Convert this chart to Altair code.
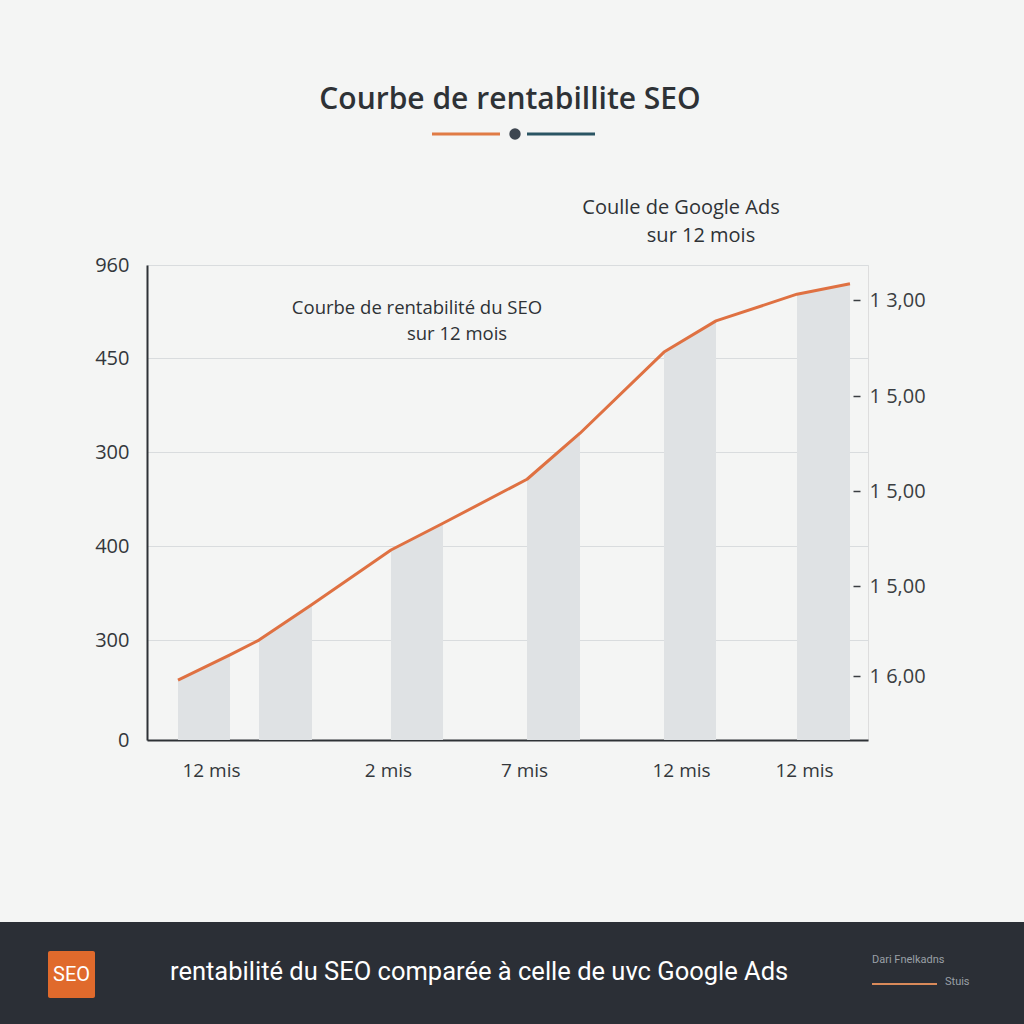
import altair as alt
import pandas as pd

# ---- data ----
line_x = [0.516, 1.381, 1.864, 2.746, 4.061, 4.927, 6.325, 7.207, 8.605, 9.470, 10.818, 11.700]
line_v = [121, 172, 202, 274, 384, 438, 527, 620, 784, 847, 901, 922]

bar_ids = ["b1", "b2", "b3", "b4", "b5", "b6"]
bar_left_x = [0.516, 1.864, 4.061, 6.325, 8.605, 10.818]
bar_right_x = [1.381, 2.746, 4.927, 7.207, 9.470, 11.700]
bar_left_v = [121, 202, 384, 527, 784, 901]
bar_right_v = [172, 274, 438, 620, 847, 922]

x_tick_vals = [1.065, 4.011, 6.275, 8.888, 10.935]
x_tick_labels = ["12 mis", "2 mis", "7 mis", "12 mis", "12 mis"]

y_left_vals = [0, 202, 392, 582, 772, 960]
y_left_labels = ["0", "300", "400", "300", "450", "960"]

y_right_vals = [129, 311, 503, 695, 889]
y_right_labels = ["1 6,00", "1 5,00", "1 5,00", "1 5,00", "1 3,00"]

title_text = "Courbe de rentabillite SEO"
note_ads = ["Coulle de Google Ads", "sur 12 mois"]
note_seo = ["Courbe de rentabilité du SEO", "sur 12 mois"]
footer_text = "rentabilité du SEO comparée à celle de uvc Google Ads"
footer_badge = "SEO"
footer_side = ["Dari Fnelkadns", "Stuis"]

# ---- styles ----
BG = "#f4f5f4"
DARK = "#2e3236"
ORANGE = "#df7142"
TEAL = "#2a5563"
FONT = "Open Sans"


def label_expr(vals, labels):
    v = "[" + ",".join(str(a) for a in vals) + "]"
    l = "[" + ",".join("'" + s + "'" for s in labels) + "]"
    return f"{l}[indexof({v}, datum.value)]"


rows = []
for b, lx, rx, lv, rv in zip(bar_ids, bar_left_x, bar_right_x, bar_left_v, bar_right_v):
    rows.append({"bar": b, "x": lx, "v": lv})
    rows.append({"bar": b, "x": rx, "v": rv})
bars_df = pd.DataFrame(rows)
line_df = pd.DataFrame({"x": line_x, "v": line_v})

x_enc = alt.X(
    "x:Q",
    scale=alt.Scale(domain=[0, 12], nice=False, zero=False),
    axis=alt.Axis(
        values=x_tick_vals,
        labelExpr=label_expr(x_tick_vals, x_tick_labels),
        title=None, grid=False, ticks=False,
        domain=True, domainColor=DARK, domainWidth=2,
        labelFontSize=19, labelColor="#33373b", labelFont=FONT,
        labelPadding=21, labelFlush=False,
    ),
)
y_scale = alt.Scale(domain=[0, 960], nice=False, zero=True)

bars = alt.Chart(bars_df).mark_area(color="#dfe2e4", opacity=1, interpolate="linear").encode(
    x=x_enc,
    y=alt.Y("v:Q", scale=y_scale, stack=None, axis=alt.Axis(
        orient="left", values=y_left_vals,
        labelExpr=label_expr(y_left_vals, y_left_labels),
        title=None, ticks=False, grid=True, gridColor="#d9dcde", gridWidth=1,
        domain=True, domainColor=DARK, domainWidth=2,
        labelFontSize=20, labelColor="#33373b", labelFont=FONT, labelPadding=18,
    )),
    detail="bar:N",
)

line = alt.Chart(line_df).mark_line(color=ORANGE, strokeWidth=3, interpolate="linear",
                                    strokeJoin="round").encode(
    x=x_enc,
    y=alt.Y("v:Q", scale=y_scale, axis=None),
)

right_axis = alt.Chart(line_df).mark_point(opacity=0).encode(
    x=x_enc,
    y=alt.Y("v:Q", scale=y_scale, axis=alt.Axis(
        orient="right", values=y_right_vals,
        labelExpr=label_expr(y_right_vals, y_right_labels),
        title=None, grid=False, domain=False, offset=-15,
        ticks=True, tickSize=7, tickColor="#3a3e42", tickWidth=1.5,
        labelFontSize=20, labelColor="#3a3e42", labelFont=FONT, labelPadding=9,
    )),
)

one = alt.Data(values=[{}])


def text(t, x, y, size, color=DARK, weight="normal", align="center", font=FONT):
    return alt.Chart(one).mark_text(
        text=t, fontSize=size, color=color, fontWeight=weight, align=align,
        baseline="middle", font=font,
    ).encode(x=alt.value(x), y=alt.value(y))


def rect(x, x2, y, y2, color, radius=0):
    return alt.Chart(one).mark_rect(color=color, cornerRadius=radius).encode(
        x=alt.value(x), x2=alt.value(x2), y=alt.value(y), y2=alt.value(y2)
    )


def hrule(x, x2, y, color, width):
    return alt.Chart(one).mark_rule(color=color, strokeWidth=width).encode(
        x=alt.value(x), x2=alt.value(x2), y=alt.value(y)
    )


decor = [
    text(title_text, 363, -165, 30, weight=600),
    hrule(285, 353, -131, "#e07b45", 3),
    hrule(380, 448, -131, TEAL, 3),
    alt.Chart(one).mark_point(filled=True, size=130, color="#3d4650", opacity=1).encode(
        x=alt.value(368), y=alt.value(-131)),
    text(note_ads[0], 534, -57, 20),
    text(note_ads[1], 554, -29, 20),
    text(note_seo[0], 270, 43, 18.5),
    text(note_seo[1], 310, 69, 18.5),
    rect(-147, 877, 657, 759, "#2b2f36"),
    rect(-99, -52, 686, 733, "#e06a2c", radius=2),
    text(footer_badge, -75.5, 709.5, 20, color="white", font="Roboto"),
    text(footer_text, 23, 707, 25.5, color="white", align="left", font="Roboto"),
    text(footer_side[0], 725, 695, 11, color="#9aa0a6", align="left", font="Roboto"),
    hrule(725, 790, 719, "#d98a5a", 2),
    text(footer_side[1], 798, 717, 11, color="#9aa0a6", align="left", font="Roboto"),
]

chart = alt.layer(bars, line, right_axis, *decor).resolve_scale(y="independent").properties(
    width=721, height=475,
    autosize=alt.AutoSizeParams(type="none"),
    padding={"left": 147, "top": 265, "right": 156, "bottom": 284},
).configure_view(stroke=None).configure(background=BG)

chart.save("out.html", embed_options={"renderer": "svg", "actions": False})
